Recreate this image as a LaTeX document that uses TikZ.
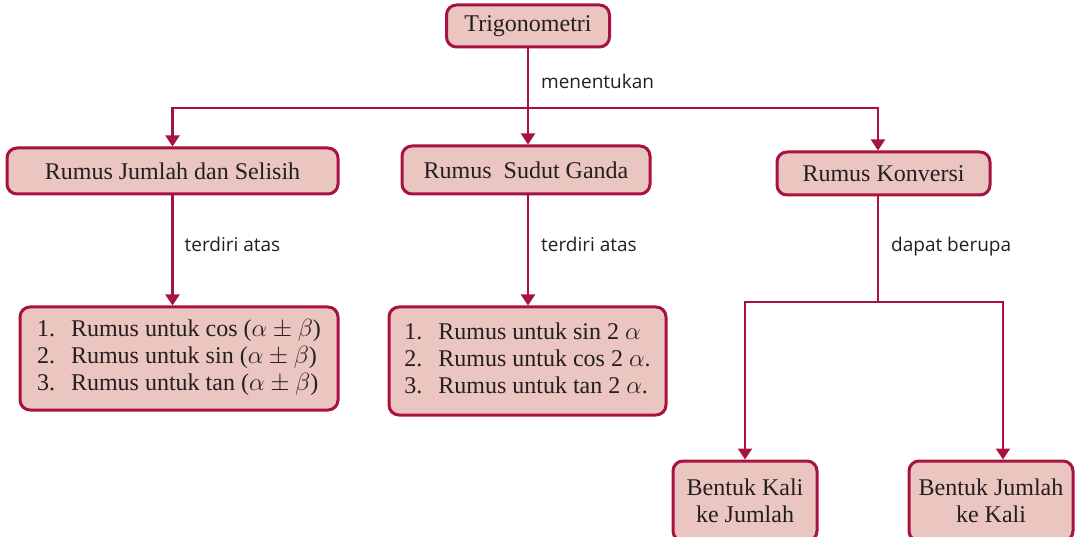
\documentclass[tikz,border=0pt]{standalone}
\usepackage{fontspec}
\setmainfont{Liberation Serif}
\newfontfamily\lblfont{Open Sans}
\usepackage{xcolor}
\usepackage{tikz}
\usetikzlibrary{arrows.meta}
\usetikzlibrary{positioning}

\definecolor{boxred}{HTML}{A8123E}
\definecolor{boxfill}{HTML}{EBC5BF}
\definecolor{txt}{HTML}{231F20}

\begin{document}
\begin{tikzpicture}[x=1pt, y=-1pt,
  box/.style={draw=boxred, line width=3pt, fill=boxfill, rounded corners=10pt,
    text=txt, font=\fontsize{24}{27}\selectfont, inner sep=0pt, align=center},
  link/.style={draw=boxred, line width=2.3pt},
  arr/.style={link, -{Triangle[width=14pt,length=11pt]}},
  lbl/.style={font=\lblfont\fontsize{19}{22}\selectfont, text=txt, inner sep=0pt}]

\useasboundingbox (0,0) rectangle (1076,537);

\node[box, minimum width=163, minimum height=42] (trig) at (528,26) {Trigonometri};

\node[box, minimum width=331, minimum height=46] (jumlah) at (172.5,171) {Rumus Jumlah dan Selisih};
\node[box, minimum width=248, minimum height=48] (ganda) at (526,170) {Rumus~ Sudut Ganda};
\node[box, minimum width=213, minimum height=43] (konversi) at (883.5,173.5) {Rumus Konversi};

\node[box, minimum width=318, minimum height=103] (list1) at (179,358.5) {%
  \begin{tabular}{@{}l@{\hspace{16pt}}l@{}}
  1. & Rumus untuk cos ($\alpha \pm \beta$)\\
  2. & Rumus untuk sin ($\alpha \pm \beta$)\\
  3. & Rumus untuk tan ($\alpha \pm \beta$)
  \end{tabular}};
\node[box, minimum width=277, minimum height=108] (list2) at (527.5,361) {%
  \begin{tabular}{@{}l@{\hspace{16pt}}l@{}}
  1. & Rumus untuk sin 2 $\alpha$\\
  2. & Rumus untuk cos 2 $\alpha$.\\
  3. & Rumus untuk tan 2 $\alpha$.
  \end{tabular}};

\node[box, minimum width=144, minimum height=80] (kalijumlah) at (745,501) {Bentuk Kali\\ke Jumlah};
\node[box, minimum width=164, minimum height=80] (jumlahkali) at (991,501) {Bentuk Jumlah\\ke Kali};

\coordinate (split1) at (528,108);
\coordinate (split2) at (878,302);

% top level
\path[link] (trig) -- node[lbl, right=12pt, pos=0.55] {menentukan} (split1);
\path[arr] (split1) -| (jumlah.north);
\path[arr] (split1) -- (split1 |- ganda.north);
\path[arr] (split1) -| ([xshift=-5.5pt]konversi.north);

% second level
\path[arr] (jumlah.south) -- node[lbl, right=11pt, pos=0.44] {terdiri atas} (jumlah.south |- list1.north);
\path[arr] (split1 |- ganda.south) -- node[lbl, right=12pt, pos=0.44] {terdiri atas} (split1 |- list2.north);
\path[link] ([xshift=-5.5pt]konversi.south) -- node[lbl, right=12pt, pos=0.47] {dapat berupa} (split2);
\path[arr] (split2) -| (kalijumlah.north);
\path[arr] (split2) -| ([xshift=12pt]jumlahkali.north);

\end{tikzpicture}
\end{document}
